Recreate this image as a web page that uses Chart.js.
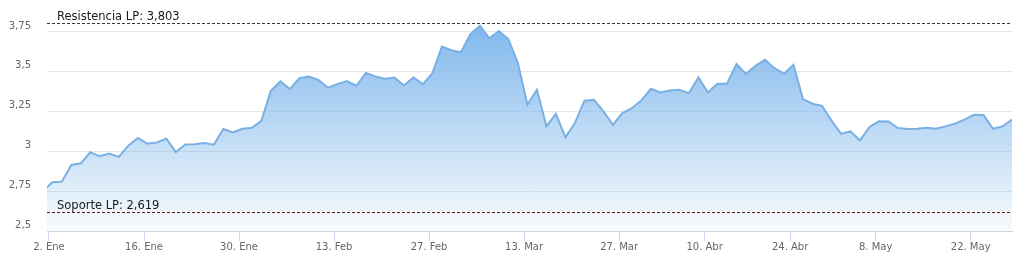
<!DOCTYPE html>
<html>
<head>
<meta charset="utf-8">
<script src="https://cdn.jsdelivr.net/npm/chart.js@4/dist/chart.umd.min.js"></script>
<style>
  html, body { margin: 0; padding: 0; background: #ffffff; }
  #wrap { width: 1022px; height: 270px; position: relative; }
</style>
</head>
<body>
<div id="wrap"><canvas id="c" width="1022" height="270"></canvas></div>
<script>
// Daily closing prices (first value is the session before 2. Ene, partly out of view)
const prices = [
  2.75,
  2.806, 2.81, 2.915, 2.925, 2.994, 2.969, 2.986, 2.965, 3.036, 3.084,
  3.048, 3.056, 3.08, 2.996, 3.043, 3.044, 3.053, 3.042, 3.14, 3.119,
  3.142, 3.148, 3.192, 3.38, 3.439, 3.391, 3.46, 3.47, 3.449, 3.4,
  3.422, 3.441, 3.412, 3.493, 3.47, 3.456, 3.464, 3.414, 3.464, 3.422,
  3.491, 3.658, 3.635, 3.622, 3.736, 3.789, 3.71, 3.756, 3.704, 3.554,
  3.293, 3.387, 3.157, 3.236, 3.088, 3.178, 3.318, 3.324, 3.251, 3.167,
  3.24, 3.272, 3.32, 3.393, 3.37, 3.382, 3.387, 3.366, 3.464, 3.37,
  3.424, 3.424, 3.548, 3.486, 3.537, 3.575, 3.522, 3.487, 3.543, 3.328,
  3.299, 3.286, 3.194, 3.111, 3.125, 3.069, 3.153, 3.189, 3.188, 3.147,
  3.14, 3.142, 3.148, 3.142, 3.157, 3.174, 3.199, 3.23, 3.228, 3.142,
  3.157, 3.199
];
// x-axis tick labels and the session index (0 = 2. Ene) they fall on
const tickLabels = ['2. Ene', '16. Ene', '30. Ene', '13. Feb', '27. Feb', '13. Mar', '27. Mar', '10. Abr', '24. Abr', '8. May', '22. May'];
const tickSessions = [0, 10, 20, 30, 40, 50, 60, 69, 78, 87, 97];
// y-axis ticks
const yTicks = [2.5, 2.75, 3, 3.25, 3.5, 3.75];
// support / resistance levels
const levels = [
  { label: 'Resistencia LP: 3,803', value: 3.803, color: '#243f24' },
  { label: 'Soporte LP: 2,619', value: 2.619, color: '#6e1414' }
];

const firstIndex = -1;
const points = prices.map((v, i) => ({ x: i + firstIndex, y: v }));
const TICK_SHIFT = -0.35;

const levelPlugin = {
  id: 'levels',
  afterDatasetsDraw(chart) {
    const { ctx, chartArea, scales } = chart;
    ctx.save();
    levels.forEach(l => {
      const y = Math.round(scales.y.getPixelForValue(l.value)) + 0.5;
      ctx.strokeStyle = l.color;
      ctx.lineWidth = 1;
      ctx.setLineDash([3, 2]);
      ctx.beginPath();
      ctx.moveTo(chartArea.left, y);
      ctx.lineTo(chartArea.right, y);
      ctx.stroke();
      ctx.setLineDash([]);
      ctx.fillStyle = '#1a1a1a';
      ctx.font = '11.5px "DejaVu Sans", Verdana, sans-serif';
      ctx.textAlign = 'left';
      ctx.textBaseline = 'alphabetic';
      ctx.fillText(l.label, chartArea.left + 10, y - 4);
    });
    ctx.restore();
  }
};

const ctx = document.getElementById('c').getContext('2d');
new Chart(ctx, {
  type: 'line',
  data: {
    datasets: [{
      data: points,
      borderColor: '#79b0e4',
      borderWidth: 2,
      pointRadius: 0,
      tension: 0,
      clip: 0,
      fill: 'start',
      backgroundColor: (c) => {
        const area = c.chart.chartArea;
        if (!area) return 'rgba(124,181,236,0.5)';
        const g = c.chart.ctx.createLinearGradient(0, area.top, 0, area.bottom);
        g.addColorStop(0, 'rgba(124,181,236,1)');
        g.addColorStop(1, 'rgba(124,181,236,0.05)');
        return g;
      }
    }]
  },
  options: {
    responsive: false,
    animation: false,
    events: [],
    layout: { padding: { top: 16, right: 10, bottom: 0, left: 0 } },
    plugins: { legend: { display: false }, tooltip: { enabled: false } },
    scales: {
      x: {
        type: 'linear',
        min: -0.56,
        max: prices.length + firstIndex - 1,
        afterBuildTicks: (s) => { s.ticks = tickSessions.map(i => ({ value: i + TICK_SHIFT })); },
        afterFit: (s) => { s.height = 39; s.paddingLeft = 0; s.paddingRight = 0; },
        grid: { drawOnChartArea: false, drawTicks: true, tickLength: 10, color: '#ccd6eb' },
        border: { display: true, color: '#ccd6eb' },
        ticks: {
          autoSkip: false,
          maxRotation: 0,
          padding: 0,
          color: '#666666',
          font: { family: '"DejaVu Sans", Verdana, sans-serif', size: 10 },
          callback: (v, i) => tickLabels[i]
        }
      },
      y: {
        min: 2.5,
        max: 3.85,
        afterBuildTicks: (s) => { s.ticks = yTicks.map(v => ({ value: v })); },
        afterFit: (s) => { s.width = 47; s.paddingTop = 0; s.paddingBottom = 0; },
        grid: { color: '#e6e6e6', drawTicks: false },
        border: { display: false },
        ticks: {
          padding: 16,
          labelOffset: -6,
          color: '#666666',
          font: { family: '"DejaVu Sans", Verdana, sans-serif', size: 10 },
          callback: (v) => String(v).replace('.', ',')
        }
      }
    }
  },
  plugins: [levelPlugin]
});
</script>
</body>
</html>
